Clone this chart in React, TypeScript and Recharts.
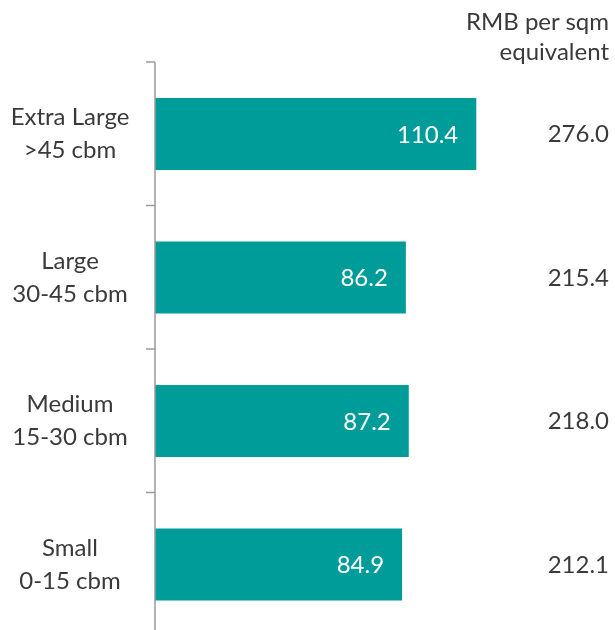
import React from "react";
import { BarChart, Bar, XAxis, YAxis, LabelList } from "recharts";

// Unit size categories, top to bottom
const sizeNames = ["Extra Large", "Large", "Medium", "Small"];
const sizeRanges = [">45 cbm", "30-45 cbm", "15-30 cbm", "0-15 cbm"];
// Monthly rent per unit
const unitRent = [110.4, 86.2, 87.2, 84.9];
// Equivalent rent expressed per square metre
const rmbPerSqm = [276.0, 215.4, 218.0, 212.1];

const headerLines = ["RMB per sqm", "equivalent"];

const FONT = "Lato, 'Open Sans', sans-serif";
const FS = 24;
const TEXT = "#3a3a3a";
const TEAL = "#009c99";
const AXIS = "#9a9a9a";
const TICK_LEN = 9;

const rows = sizeNames.map((name, i) => ({
  name,
  range: sizeRanges[i],
  rent: unitRent[i],
  perSqm: rmbPerSqm[i],
}));

const W = 607;
const H = 640;

// Category label in two lines, plus tick marks on the band boundaries
const LeftTick = (props: any) => {
  const { x, y, index, payload, visibleTicksCount } = props;
  const half = payload && payload.offset ? payload.offset : 0;
  const cx = x - 85;
  const last = index === (visibleTicksCount ?? sizeNames.length) - 1;
  return (
    <g>
      <line x1={x - TICK_LEN} x2={x} y1={y - half} y2={y - half} stroke={AXIS} strokeWidth={1.5} />
      {last && (
        <line x1={x - TICK_LEN} x2={x} y1={y + half} y2={y + half} stroke={AXIS} strokeWidth={1.5} />
      )}
      <text x={cx} y={y - 17} dy="0.35em" textAnchor="middle" fontFamily={FONT} fontSize={FS} fill={TEXT}>
        {sizeNames[index]}
      </text>
      <text x={cx} y={y + 16} dy="0.35em" textAnchor="middle" fontFamily={FONT} fontSize={FS} fill={TEXT}>
        {sizeRanges[index]}
      </text>
    </g>
  );
};

const RightTick = (props: any) => {
  const { x, y, index } = props;
  return (
    <text x={x} y={y} dy="0.35em" textAnchor="end" fontFamily={FONT} fontSize={FS} fill={TEXT}>
      {rmbPerSqm[index].toFixed(1)}
    </text>
  );
};

export default function App() {
  return (
    <div style={{ position: "fixed", left: 8, top: 8, width: W, height: 622, overflow: "hidden" }}>
      <BarChart
        width={W}
        height={H}
        data={rows}
        layout="vertical"
        margin={{ top: 54, right: 5, bottom: 12, left: 0 }}
        barSize={72}
      >
        <XAxis type="number" hide domain={[0, 156]} allowDataOverflow />
        <YAxis
          yAxisId="cat"
          type="category"
          dataKey="name"
          width={147}
          axisLine={{ stroke: AXIS, strokeWidth: 1.5 }}
          tickLine={false}
          tickSize={0}
          tickMargin={0}
          tick={<LeftTick />}
          interval={0}
        />
        <YAxis
          yAxisId="rmb"
          orientation="right"
          type="category"
          dataKey="name"
          width={1}
          axisLine={false}
          tickLine={false}
          tickSize={0}
          tickMargin={0}
          tick={<RightTick />}
          interval={0}
        />
        <Bar dataKey="rent" yAxisId="cat" fill={TEAL} isAnimationActive={false}>
          <LabelList
            dataKey="rent"
            position="insideRight"
            offset={18}
            fill="#ffffff"
            fontFamily={FONT}
            fontSize={FS}
            formatter={(v: any) => Number(v).toFixed(1)}
          />
        </Bar>
        {/* transparent companion series so the right-hand axis has data */}
        <Bar dataKey="rent" yAxisId="rmb" fill="none" isAnimationActive={false} />
        {headerLines.map((line, i) => (
          <text
            key={line}
            x={601}
            y={14 + i * 30}
            dy="0.35em"
            textAnchor="end"
            fontFamily={FONT}
            fontSize={FS}
            fill={TEXT}
          >
            {line}
          </text>
        ))}
      </BarChart>
    </div>
  );
}
